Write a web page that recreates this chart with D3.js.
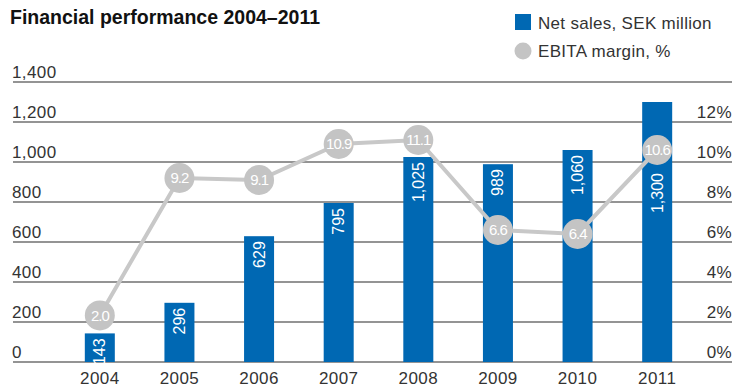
<html lang="en">
<head>
<title>Financial performance 2004–2011</title>
<script src="https://d3js.org/d3.v7.min.js" charset="utf-8"></script>
<style type="text/css">
  body { margin: 0; background: #fff; font-family: "Liberation Sans", Arial, sans-serif; }
  .tick-label { fill: #333; font-size: 17px; letter-spacing: 0.4px; }
  .title { font-weight: bold; font-size: 19.5px; fill: #111; }
  .legend { fill: #333; font-size: 17px; letter-spacing: 0.3px; }
</style>
</head>
<body>
<div class="main"></div>
<script>
  // data
  var years = ["2004", "2005", "2006", "2007", "2008", "2009", "2010", "2011"]
  var netSales = [143, 296, 629, 795, 1025, 989, 1060, 1300]
  var ebitaMargin = [2.0, 9.2, 9.1, 10.9, 11.1, 6.6, 6.4, 10.6]
  var leftTicks = [0, 200, 400, 600, 800, 1000, 1200, 1400]
  var rightTicks = [0, 2, 4, 6, 8, 10, 12]

  var width = 735
  var height = 387
  var blue = "#0068b3"
  var grey = "#c4c4c4"
  var r = 15

  var svg = d3.select(".main")
    .append("svg")
    .attr("width", width)
    .attr("height", height)

  var x = d3.scalePoint()
    .domain(years)
    .range([60, 697])
    .padding(0.5)

  var y = d3.scaleLinear()
    .domain([0, 1400])
    .range([362, 82])

  var y2 = d3.scaleLinear()
    .domain([0, 14])
    .range([362, 82])

  var fmt = d3.format(",")

  // dot position: lift a dot off a short bar so the bar label stays readable
  function dotY(i){
    var yy = y2(ebitaMargin[i])
    var top = y(netSales[i])
    if (y(0) - top < 40 && yy + r > top) yy = top - r - 3
    return yy
  }

  // title
  svg.append("text")
    .attr("class", "title")
    .attr("x", 10)
    .attr("y", 24)
    .text("Financial performance 2004–2011")

  // legend
  svg.append("rect")
    .attr("x", 515).attr("y", 14)
    .attr("width", 16).attr("height", 16)
    .attr("fill", blue)
  svg.append("text").attr("class", "legend")
    .attr("x", 538).attr("y", 29)
    .text("Net sales, SEK million")
  svg.append("circle")
    .attr("cx", 523).attr("cy", 51).attr("r", 8.5)
    .attr("fill", grey)
  svg.append("text").attr("class", "legend")
    .attr("x", 538).attr("y", 57)
    .text("EBITA margin, %")

  // grid lines
  svg.append("g").selectAll("line")
    .data(leftTicks)
    .enter()
    .append("line")
    .attr("x1", 13).attr("x2", 732)
    .attr("y1", function(d){ return y(d) })
    .attr("y2", function(d){ return y(d) })
    .attr("stroke", "#707070")
    .attr("stroke-width", 1.5)

  // left labels
  svg.append("g").selectAll("text")
    .data(leftTicks)
    .enter()
    .append("text")
    .attr("class", "tick-label")
    .attr("x", 12)
    .attr("y", function(d){ return y(d) - 4 })
    .text(function(d){ return fmt(d) })

  // right labels
  svg.append("g").selectAll("text")
    .data(rightTicks)
    .enter()
    .append("text")
    .attr("class", "tick-label")
    .attr("x", 732)
    .attr("y", function(d){ return y2(d) - 4 })
    .attr("text-anchor", "end")
    .text(function(d){ return d + "%" })

  // x labels
  svg.append("g").selectAll("text")
    .data(years)
    .enter()
    .append("text")
    .attr("class", "tick-label")
    .attr("x", function(d){ return x(d) })
    .attr("y", 384)
    .attr("text-anchor", "middle")
    .text(function(d){ return d })

  // bars
  var bars = svg.append("g").selectAll("g")
    .data(years)
    .enter()
    .append("g")

  bars.append("rect")
    .attr("x", function(d){ return x(d) - 15 })
    .attr("width", 30)
    .attr("y", function(d, i){ return y(netSales[i]) })
    .attr("height", function(d, i){ return y(0) - y(netSales[i]) })
    .attr("fill", blue)

  bars.append("text")
    .attr("text-anchor", "end")
    .attr("fill", "#fff")
    .attr("font-size", "16px")
    .text(function(d, i){ return fmt(netSales[i]) })
    .attr("transform", function(d, i){
      // start near the bar top, but move below the dot if the dot covers the label
      var top = y(netSales[i]) + 5
      var len = this.getComputedTextLength()
      var dy = dotY(i)
      if (dy + r > top && dy - r < top + len) top = dy + r + 8
      return "translate(" + (x(d) + 5.5) + "," + top + ") rotate(-90)"
    })

  // EBITA line
  var line = d3.line()
    .x(function(d, i){ return x(years[i]) })
    .y(function(d, i){ return dotY(i) })

  svg.append("path")
    .datum(ebitaMargin)
    .attr("d", line)
    .attr("fill", "none")
    .attr("stroke", "#c8c8c8")
    .attr("stroke-width", 4)

  var dots = svg.append("g").selectAll("g")
    .data(ebitaMargin)
    .enter()
    .append("g")
    .attr("transform", function(d, i){ return "translate(" + x(years[i]) + "," + dotY(i) + ")" })

  dots.append("circle")
    .attr("r", r)
    .attr("fill", grey)

  dots.append("text")
    .attr("text-anchor", "middle")
    .attr("dy", "0.36em")
    .attr("fill", "#fff")
    .attr("font-size", "15px")
    .attr("letter-spacing", "-1px")
    .text(function(d){ return d.toFixed(1) })
</script>
</body>
</html>
